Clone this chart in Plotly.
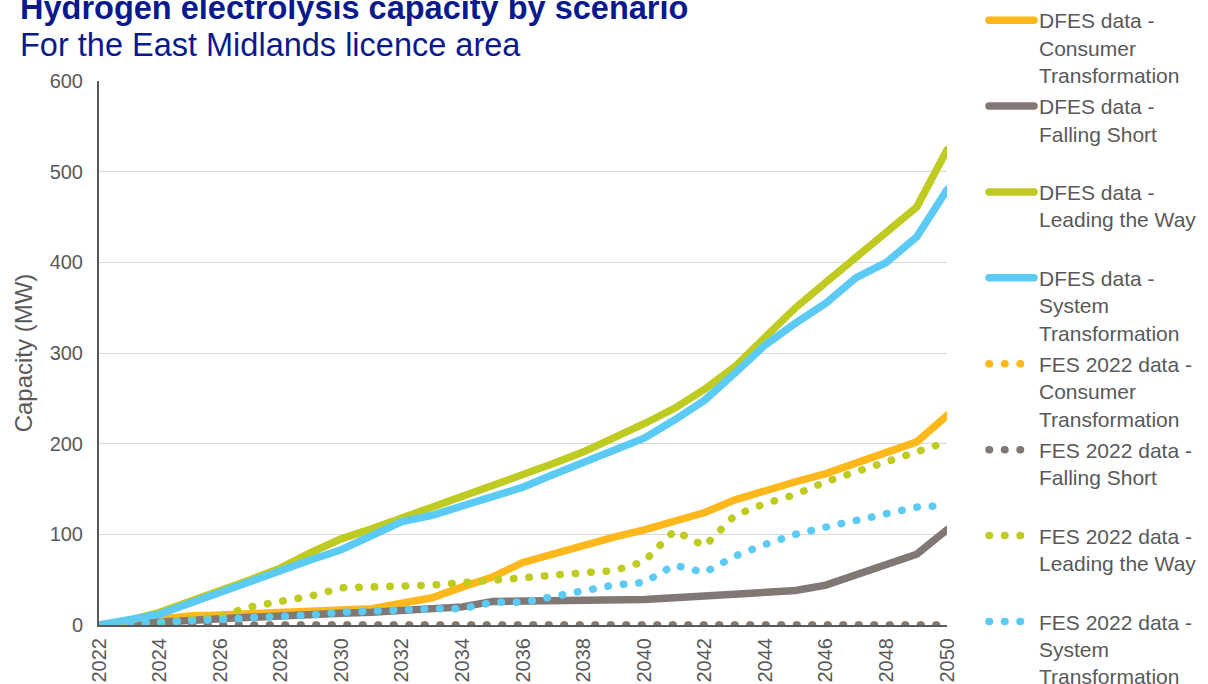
import plotly.graph_objects as go

years = list(range(2022, 2051))
x_ticks = [2022, 2024, 2026, 2028, 2030, 2032, 2034, 2036, 2038, 2040, 2042, 2044, 2046, 2048, 2050]
y_ticks = [0, 100, 200, 300, 400, 500, 600]

dfes_consumer = [0, 3, 8, 10, 11, 12, 13, 14, 15, 18, 24, 30, 42, 53, 69, 79, 88, 97, 105, 114,
                 124, 138, 149, 158, 167, 178, 191, 202, 231]
dfes_falling = [0, 1, 3, 5, 7, 9, 10, 12, 13, 14, 16, 18, 20, 26, 26, 26, 27, 27, 28, 30,
                32, 32, 35, 38, 44, 56, 67, 78, 105]
dfes_leading = [0, 5, 14, 27, 38, 50, 63, 80, 95, 106, 118, 128, 140, 152, 165, 178, 191, 206, 222, 239,
                260, 285, 318, 350, 378, 406, 432, 461, 524]
dfes_system = [0, 6, 12, 24, 36, 50, 61, 72, 83, 98, 114, 121, 131, 141, 152, 166, 179, 192, 206, 226,
               248, 278, 309, 333, 355, 383, 400, 428, 480]
fes_consumer = [0, 0, 0, 0, 0, 0, 0, 0, 0, 0, 0, 0, 0, 0, 0, 0, 0, 0, 0, 0,
                0, 0, 0, 0, 0, 0, 0, 0, 0]
fes_falling = [0, 0, 0, 0, 0, 0, 0, 0, 0, 0, 0, 0, 0, 0, 0, 0, 0, 0, 0, 0,
               0, 0, 0, 0, 0, 0, 0, 0, 0]
fes_leading = [0, 1, 3, 6, 10, 20, 25, 32, 41, 43, 43, 44, 46, 48, 52, 55, 58, 60, 70, 104,
               87, 121, 134, 144, 158, 169, 181, 193, 202]
fes_system = [0, 1, 3, 5, 6, 8, 9, 11, 14, 16, 17, 18, 18, 25, 25, 31, 36, 44, 47, 66,
              58, 76, 89, 100, 108, 116, 123, 130, 132]

ORANGE = "#FFB81C"
GREY = "#817876"
GREEN = "#C0CB21"
BLUE = "#5BCBF5"
NAVY = "#0A1A8C"
TXT = "#595959"

series = [
    ("DFES data -<br>Consumer<br>Transformation", dfes_consumer, ORANGE, "solid"),
    ("DFES data -<br>Falling Short<br> ", dfes_falling, GREY, "solid"),
    ("DFES data -<br>Leading the Way<br> ", dfes_leading, GREEN, "solid"),
    ("DFES data -<br>System<br>Transformation", dfes_system, BLUE, "solid"),
    ("FES 2022 data -<br>Consumer<br>Transformation", fes_consumer, ORANGE, "0.5px,15px"),
    ("FES 2022 data -<br>Falling Short<br> ", fes_falling, GREY, "0.5px,15px"),
    ("FES 2022 data -<br>Leading the Way<br> ", fes_leading, GREEN, "0.5px,15px"),
    ("FES 2022 data -<br>System<br>Transformation", fes_system, BLUE, "0.5px,15px"),
]

fig = go.Figure()
for i, (name, vals, color, dash) in enumerate(series):
    fig.add_trace(go.Scatter(
        x=years, y=vals, name=name, mode="lines", legendgroup=f"g{i}",
        line=dict(color=color, width=7.5, dash=dash),
        hoverinfo="skip",
    ))

FONT = "Arial, Liberation Sans, sans-serif"

fig.update_layout(
    width=1208, height=684,
    margin=dict(l=99, r=261, t=81, b=59, autoexpand=False),
    paper_bgcolor="white", plot_bgcolor="white",
    font=dict(family=FONT, color=TXT),
    legend=dict(
        x=984 / 1208, xref="container", xanchor="left",
        y=1.015, yref="container", yanchor="top",
        font=dict(family=FONT, size=21, color=TXT),
        valign="top", itemwidth=45, tracegroupgap=1, traceorder="grouped",
        bgcolor="rgba(0,0,0,0)", maxheight=1200,
    ),
    showlegend=True,
    annotations=[
        dict(text="<b>Hydrogen electrolysis capacity by scenario</b>",
             xref="paper", yref="paper", x=-0.0955, y=1.134,
             xanchor="left", yanchor="middle", showarrow=False,
             font=dict(family=FONT, size=32.5, color=NAVY)),
        dict(text="For the East Midlands licence area",
             xref="paper", yref="paper", x=-0.0955, y=1.066,
             xanchor="left", yanchor="middle", showarrow=False,
             font=dict(family=FONT, size=32.5, color=NAVY)),
    ],
)

fig.update_xaxes(
    range=[2022, 2050], tickvals=x_ticks, ticktext=[str(t) for t in x_ticks],
    tickangle=-90, tickfont=dict(size=20, color=TXT), showgrid=False,
    showline=True, linecolor=TXT, linewidth=2, zeroline=False,
    ticks="", ticklabelstandoff=3, layer="below traces", automargin=False,
)
fig.update_yaxes(
    range=[0, 600], tickvals=y_ticks, tickfont=dict(size=20, color=TXT),
    showgrid=True, gridcolor="#D9D9D9", gridwidth=1,
    showline=True, linecolor=TXT, linewidth=2, zeroline=False,
    ticks="", ticklabelstandoff=10, automargin=False,
    title=dict(text="Capacity (MW)", font=dict(size=24, color=TXT), standoff=10),
)

post = """
var s = document.createElement('style');
s.innerHTML = 'html,body{margin:0;padding:0;overflow:hidden;} path.js-line{stroke-linecap:round;}';
document.head.appendChild(s);
"""
fig.write_html("out.html", post_script=post, config={"displayModeBar": False})
